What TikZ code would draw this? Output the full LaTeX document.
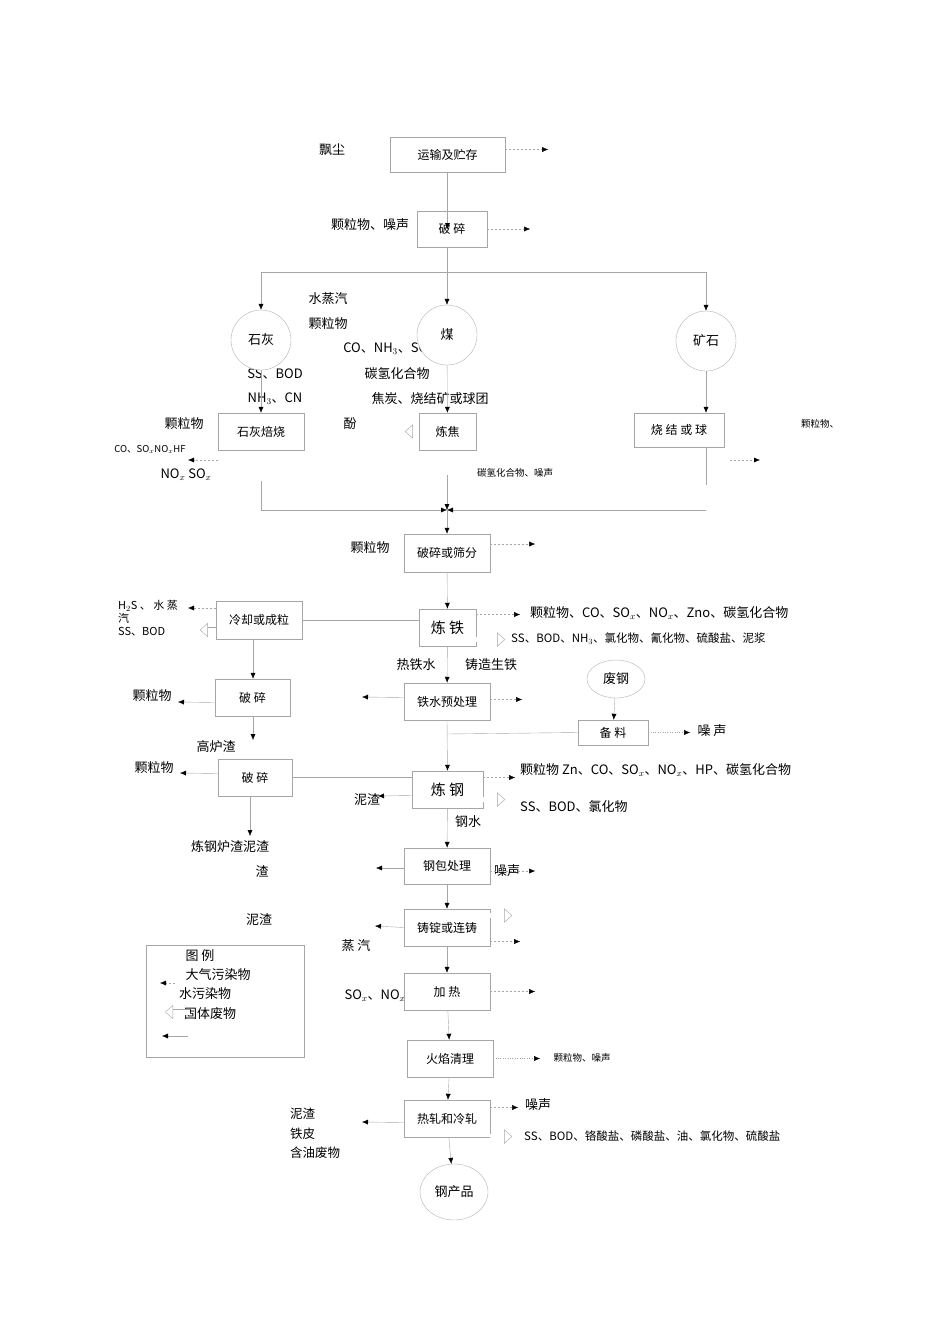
\documentclass[tikz,border=0pt]{standalone}
\usepackage{fontspec}
\setmainfont{Noto Sans CJK SC}
\usetikzlibrary{arrows.meta}
\tikzset{
  box/.style={draw=gray!70, fill=white, inner sep=1pt, font=\fontsize{12}{14}\selectfont},
  bigbox/.style={box, font=\fontsize{15}{17}\selectfont},
  rnd/.style={draw=gray!60, fill=white, ellipse, inner sep=0pt, font=\fontsize{13}{15}\selectfont},
  txt/.style={inner sep=0pt, font=\fontsize{13}{15}\selectfont},
  sml/.style={inner sep=0pt, font=\fontsize{9.5}{11}\selectfont},
  flow/.style={draw=gray!70, -{Latex[length=6pt,width=5pt,black]}},
  air/.style={draw=gray!70, dash pattern=on 2pt off 2pt, -{Latex[length=6pt,width=5pt,black]}},
  water/.style={draw=gray!70, double=white, double distance=5pt, -{Triangle[open,length=8pt,width=14pt]}},
  link/.style={draw=gray!70},
}
\usetikzlibrary{shapes.geometric}
\begin{document}
\begin{tikzpicture}[x=1pt,y=-1pt]
  \useasboundingbox (0,0) rectangle (950,1344);
  % free texts
  \foreach \x/\y/\n/\l in {332/150/t1/飘尘, 370/225/t2/颗粒物、噪声, 328/299/t3/水蒸汽, 328/324/t4/颗粒物,
      406/349/t5/{CO、NH$_3$、SO$_2$、H$_2$S}, 275/374/t6/{SS、BOD}, 397/374/t7/碳氢化合物, 275/399/t8/{NH$_3$、CN},
      430/399/t9/焦炭、烧结矿或球团, 350/424/t10/酚, 184/424/t11/颗粒物, 186/475/t12/{NO$_x$ SO$_x$},
      370/548/t13/颗粒物, 416/665/t14/热铁水, 491/665/t15/铸造生铁, 152/696/t16/颗粒物, 216/747/t17/高炉渣,
      154/768/t18/颗粒物, 367/800/t19/泥渣, 468/822/t20/钢水, 230/847/t21/炼钢炉渣泥渣, 262/871/t22/渣,
      259/920/t23/泥渣, 356/946/t24/蒸\ 汽, 375/996/t25/{SO$_x$、NO$_x$}, 507/871/t26/噪声, 538/1105/t27/噪声,
      712/731/t28/噪\ 声}{
    \node[txt] (\n) at (\x,\y) {\l};
  }
  \foreach \x/\y/\n/\l in {150/449/s1/{CO、SO$_x$NO$_x$HF}, 515/473/s2/碳氢化合物、噪声, 820/424/s3/颗粒物、,
      582/1058/s4/颗粒物、噪声}{
    \node[sml] (\n) at (\x,\y) {\l};
  }
  \node[txt, anchor=west] (t33) at (530,613) {颗粒物、CO、SO$_x$、NO$_x$、Zno、碳氢化合物};
  \node[txt, anchor=west, font=\fontsize{11.5}{13}\selectfont] (t34) at (511,639) {SS、BOD、NH$_3$、氯化物、氰化物、硫酸盐、泥浆};
  \node[txt, anchor=west] (t35) at (520,770) {颗粒物 Zn、CO、SO$_x$、NO$_x$、HP、碳氢化合物};
  \node[txt, anchor=west] (t36) at (520,807) {SS、BOD、氯化物};
  \node[txt, anchor=west, font=\fontsize{11.5}{13}\selectfont] (t37) at (524,1136) {SS、BOD、铬酸盐、磷酸盐、油、氯化物、硫酸盐};
  \node[txt, anchor=north west, align=left, font=\fontsize{11}{13}\selectfont] (t38) at (118,600) {H$_2$S\ 、\ 水\ 蒸\\汽\\SS、BOD};
  \node[txt, anchor=north west, align=left, font=\fontsize{12.5}{19.5}\selectfont] (t39) at (290,1108) {泥渣\\铁皮\\含油废物};
  % process boxes
  \foreach \x/\y/\w/\h/\n/\l in {447.5/154.5/115/35/ys/运输及贮存, 452/229/70/36/ps1/破\ 碎, 261/431.5/86/37/shb/石灰焙烧,
      447.5/431.5/57/37/lj/炼焦, 679/430/90/34/sj/烧\ 结\ 或\ 球, 447/553/86/38/pssf/破碎或筛分,
      259/620/86/38/lq/冷却或成粒, 252.5/697.5/75/37/ps2/破\ 碎, 255/777.5/74/37/ps3/破\ 碎, 447/701.5/86/37/tsy/铁水预处理,
      613/732.5/70/25/bl/备\ 料, 447/866/86/36/gb/钢包处理, 447/927.5/86/37/zd/铸锭或连铸,
      447/991.5/86/37/jr/加\ 热, 450/1058.5/86/37/hy/火焰清理, 447/1118.5/86/37/rz/热轧和冷轧}{
    \node[box, minimum width=\w pt, minimum height=\h pt] (\n) at (\x,\y) {\l};
  }
  \node[bigbox, minimum width=57pt, minimum height=37pt] (lt) at (447.5,627.5) {炼\ 铁};
  \node[bigbox, minimum width=71pt, minimum height=37pt] (lg) at (447.5,789.5) {炼\ 钢};
  \node[draw=gray!70, minimum width=158pt, minimum height=112pt] (lgd) at (225,1001) {};
  \foreach \x/\y/\n/\l in {200/956/u29/图\ 例, 218/975/u30/大气污染物, 205/994/u31/水污染物, 210/1014/u32/固体废物}{
    \node[txt] (\n) at (\x,\y) {\l};
  }
  % raw materials
  \foreach \x/\y/\w/\h/\n/\l in {261/340/60/60/sh/石灰, 447/335/60/60/mei/煤, 706/341/60/60/ks/矿石,
      616/679/58/38/fg/废钢, 454/1192/68/56/gcp/钢产品}{
    \node[rnd, minimum width=\w pt, minimum height=\h pt] (\n) at (\x,\y) {\l};
  }
  % main flow
  \coordinate (sp) at (447,272);
  \coordinate (mg) at (447,510);
  \draw[flow] (ys) -- (ps1.west -| ys);
  \draw[link] (ps1.south -| sp) -- (sp);
  \draw[link] (261,272) -- (706,272);
  \foreach \n in {sh,mei,ks}{
    \draw[flow] (sp -| \n) -- (\n.north);
  }
  \draw[flow] (sh) -- (shb);
  \draw[flow] (mei) -- (lj);
  \draw[flow] (ks.south) -- (ks.south |- sj.north);
  \draw[link] (ks.south |- sj.south) -- (706,485);
  \draw[link] (shb.south |- t12.south) -- (shb.south |- mg);
  \draw[flow] (shb.south |- mg) -- (mg);
  \draw[flow] (706,510) -- (mg);
  \draw[flow] (447,475) -- (mg);
  \draw[flow] (mg) -- (pssf);
  \draw[flow] (pssf) -- (lt);
  \draw[flow] (lt) -- (tsy);
  \draw[link] (lq.east) -- (lq.east -| lt.west);
  \draw[flow] (lq.south -| 253,0) -- (ps2.north -| 253,0);
  \draw[flow] (ps2.south -| 253,0) -- (253,740);
  \draw[link] (ps3.east) -- (ps3.east -| lg.west);
  \draw[flow] (ps3.south -| 250,0) -- (250,836);
  \draw[flow] (tsy.south) -- (lg.north);
  \draw[link] (447,734) -- (bl.west);
  \draw[flow] (fg) -- (bl);
  \draw[flow] (lg) -- (gb);
  \draw[flow] (gb) -- (zd);
  \draw[flow] (zd) -- (jr);
  \draw[flow] (jr) -- (hy);
  \draw[flow] (hy) -- (rz);
  \draw[flow] (rz) -- (gcp);
  % air pollutants
  \draw[air] (ys.east) ++(0,-5) -- ++(43,0);
  \draw[air] (ps1.east) -- ++(43,0);
  \draw[air] (218,460) -- (188,460);
  \draw[air] (730,460) -- (760,460);
  \draw[air] (pssf.east) ++(0,-9) -- ++(45,0);
  \draw[air] (lt.east) ++(0,-13) -- ++(44,0);
  \draw[air] (lq.west) ++(0,-12) -- (188,608);
  \draw[air] (tsy.east) ++(0,-2) -- ++(32,0);
  \draw[air, dotted] (bl.east) -- ++(42,0);
  \draw[air] (lg.east) ++(0,-12) -- ++(32,0);
  \draw[air] (gb.east) ++(0,5) -- ++(45,0);
  \draw[air] (zd.east) ++(0,14) -- ++(30,0);
  \draw[air] (jr.east) -- ++(45,0);
  \draw[air, dotted] (hy.east) -- ++(47,0);
  \draw[air] (rz.east) ++(0,-11) -- ++(28,0);
  \draw[air] (175,983) -- (160,983);
  % water pollutants
  \draw[water] (lj.west) -- ++(-14,0);
  \draw[water] (lt.east) ++(0,12) -- ++(29,0);
  \draw[water] (lq.west) ++(0,10) -- ++(-16,0);
  \draw[water] (lg.east) ++(0,10) -- ++(22,0);
  \draw[water] (zd.east) ++(0,-12) -- ++(22,0);
  \draw[water] (rz.east) ++(0,18) -- ++(22,0);
  \draw[water] (190,1012) -- (165,1012);
  % solid wastes
  \draw[flow] (ps2.west) ++(0,5) -- (178,702);
  \draw[flow] (ps3.west) ++(0,-4) -- (180,773);
  \draw[flow] (tsy.west) ++(0,-4) -- (362,697);
  \draw[flow] (lg.west) ++(0,6) -- (378,796);
  \draw[flow] (gb.west) ++(0,2) -- (376,868);
  \draw[flow] (zd.west) -- (375,926);
  \draw[flow] (rz.west) ++(0,4) -- (362,1122);
  \draw[flow] (188,1036) -- (162,1036);
\end{tikzpicture}
\end{document}
